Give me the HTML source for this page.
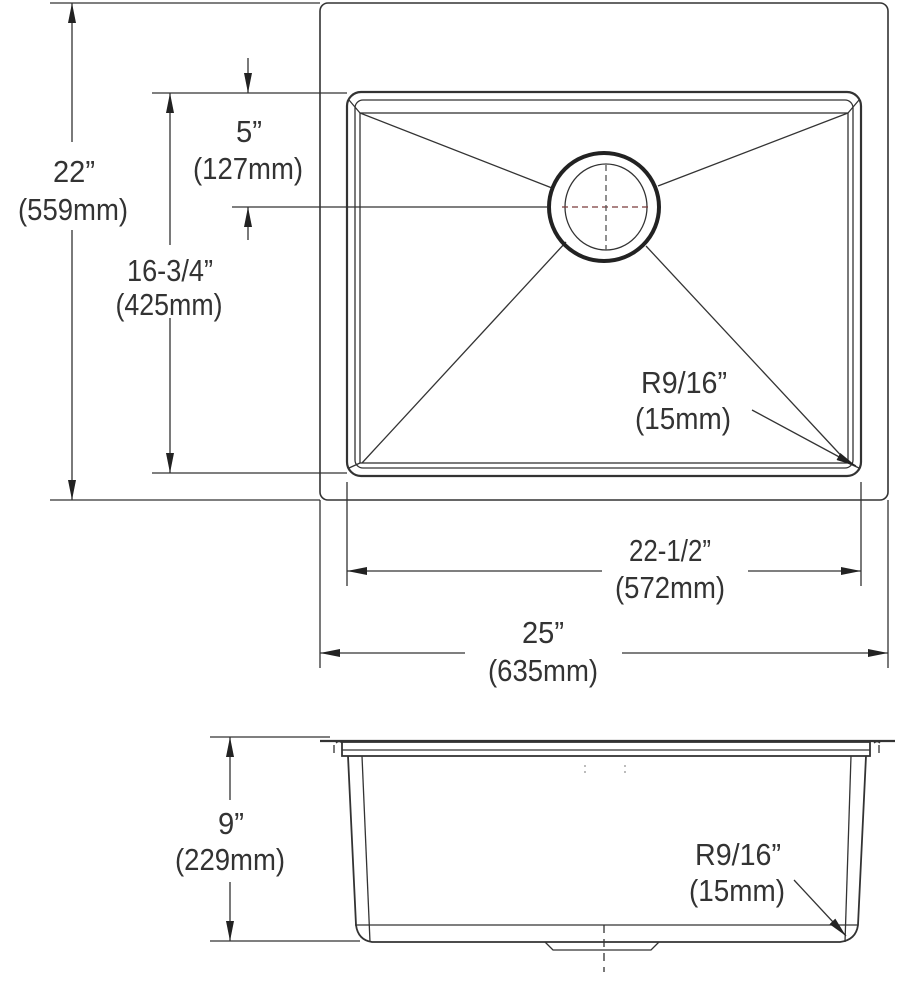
<!DOCTYPE html>
<html><head><meta charset="utf-8"><style>
html,body{margin:0;padding:0;background:#fff;}
svg{display:block}
text{font-family:"Liberation Sans",sans-serif;font-size:31px;fill:#333;text-anchor:middle}
</style></head><body>
<svg width="908" height="990" viewBox="0 0 908 990" xmlns="http://www.w3.org/2000/svg">
<defs>
<marker id="a" viewBox="0 0 20 8" refX="20" refY="4" markerWidth="20" markerHeight="8" markerUnits="userSpaceOnUse" orient="auto-start-reverse"><path d="M0,0 L20,4 L0,8 z" fill="#222"/></marker>
</defs>
<g stroke="#333" fill="none" stroke-width="1.3">
<rect x="320" y="3" width="568" height="497" rx="8" stroke-width="1.6"/>
<rect x="347" y="92" width="514" height="384" rx="14" stroke-width="2.2"/>
<rect x="355" y="100" width="498" height="368" rx="8"/>
<rect x="360" y="113" width="488" height="350"/>
<path d="M349,100 L360,113 M859,100 L848,113 M349,468 L360,463 M859,468 L848,463"/>
<line x1="360" y1="113" x2="552" y2="188"/>
<line x1="848" y1="113" x2="658" y2="186"/>
<line x1="362" y1="463" x2="566" y2="242"/>
<line x1="848" y1="463" x2="646" y2="246"/>
<ellipse cx="604" cy="207" rx="55" ry="54" stroke-width="4" stroke="#222"/>
<ellipse cx="606" cy="207" rx="41" ry="43"/>
<line x1="562" y1="207" x2="650" y2="207" stroke="#7a3a3a" stroke-dasharray="6,4"/>
<line x1="606" y1="165" x2="606" y2="250" stroke="#555" stroke-dasharray="6,4"/>
<line x1="50" y1="3" x2="320" y2="3"/>
<line x1="50" y1="500" x2="320" y2="500"/>
<line x1="72" y1="142" x2="72" y2="3" marker-end="url(#a)"/>
<line x1="72" y1="230" x2="72" y2="500" marker-end="url(#a)"/>
<line x1="152" y1="93" x2="347" y2="93"/>
<line x1="152" y1="473" x2="347" y2="473"/>
<line x1="170" y1="245" x2="170" y2="93" marker-end="url(#a)"/>
<line x1="170" y1="318" x2="170" y2="473" marker-end="url(#a)"/>
<line x1="248" y1="58" x2="248" y2="93" marker-end="url(#a)"/>
<line x1="232" y1="207" x2="548" y2="207"/>
<line x1="248" y1="240" x2="248" y2="207" marker-end="url(#a)"/>
<line x1="347" y1="482" x2="347" y2="586"/>
<line x1="861" y1="482" x2="861" y2="586"/>
<line x1="602" y1="571" x2="347" y2="571" marker-end="url(#a)"/>
<line x1="748" y1="571" x2="861" y2="571" marker-end="url(#a)"/>
<line x1="320" y1="500" x2="320" y2="668"/>
<line x1="888" y1="500" x2="888" y2="668"/>
<line x1="465" y1="653" x2="320" y2="653" marker-end="url(#a)"/>
<line x1="622" y1="653" x2="888" y2="653" marker-end="url(#a)"/>
<line x1="752" y1="410" x2="856" y2="466" marker-end="url(#a)"/>
<line x1="320" y1="741" x2="895" y2="741" stroke-width="2.2"/>
<rect x="342" y="742" width="528" height="14" stroke-width="1.8"/>
<line x1="342" y1="750" x2="870" y2="750"/>
<path d="M334,745 v8 M336,743 q3,-3 6,0 M874,743 q3,-3 6,0 M879,745 v8" />
<path d="M348,756 L356,925 Q358,940 372,942 L840,942 Q856,940 858,925 L866,756" stroke-width="1.8"/>
<line x1="362" y1="756" x2="370" y2="942"/>
<line x1="851" y1="756" x2="845" y2="942"/>
<line x1="355" y1="925" x2="858" y2="925"/>
<path d="M545,942 L553,950 H651 L659,942" />
<line x1="604" y1="925" x2="604" y2="972" stroke-dasharray="8,6"/>
<path d="M585,765 v2 M585,771 v2 M625,765 v2 M625,771 v2" stroke="#999"/>
<line x1="210" y1="737" x2="330" y2="737"/>
<line x1="210" y1="941" x2="360" y2="941"/>
<line x1="230" y1="800" x2="230" y2="737" marker-end="url(#a)"/>
<line x1="230" y1="882" x2="230" y2="941" marker-end="url(#a)"/>
<line x1="794" y1="880" x2="846" y2="936" marker-end="url(#a)"/>
</g>
<text x="74" y="182" textLength="42" lengthAdjust="spacingAndGlyphs">22”</text>
<text x="73" y="220" textLength="110" lengthAdjust="spacingAndGlyphs">(559mm)</text>
<text x="249" y="142" textLength="26" lengthAdjust="spacingAndGlyphs">5”</text>
<text x="248" y="179" textLength="110" lengthAdjust="spacingAndGlyphs">(127mm)</text>
<text x="170" y="281" textLength="86" lengthAdjust="spacingAndGlyphs">16-3/4”</text>
<text x="169" y="315" textLength="107" lengthAdjust="spacingAndGlyphs">(425mm)</text>
<text x="670" y="561" textLength="82" lengthAdjust="spacingAndGlyphs">22-1/2”</text>
<text x="670" y="598" textLength="110" lengthAdjust="spacingAndGlyphs">(572mm)</text>
<text x="543" y="643" textLength="42" lengthAdjust="spacingAndGlyphs">25”</text>
<text x="543" y="681" textLength="110" lengthAdjust="spacingAndGlyphs">(635mm)</text>
<text x="684" y="393" textLength="86" lengthAdjust="spacingAndGlyphs">R9/16”</text>
<text x="683" y="429" textLength="96" lengthAdjust="spacingAndGlyphs">(15mm)</text>
<text x="231" y="834" textLength="26" lengthAdjust="spacingAndGlyphs">9”</text>
<text x="230" y="870" textLength="110" lengthAdjust="spacingAndGlyphs">(229mm)</text>
<text x="738" y="865" textLength="86" lengthAdjust="spacingAndGlyphs">R9/16”</text>
<text x="737" y="901" textLength="96" lengthAdjust="spacingAndGlyphs">(15mm)</text>
</svg>
</body></html>
